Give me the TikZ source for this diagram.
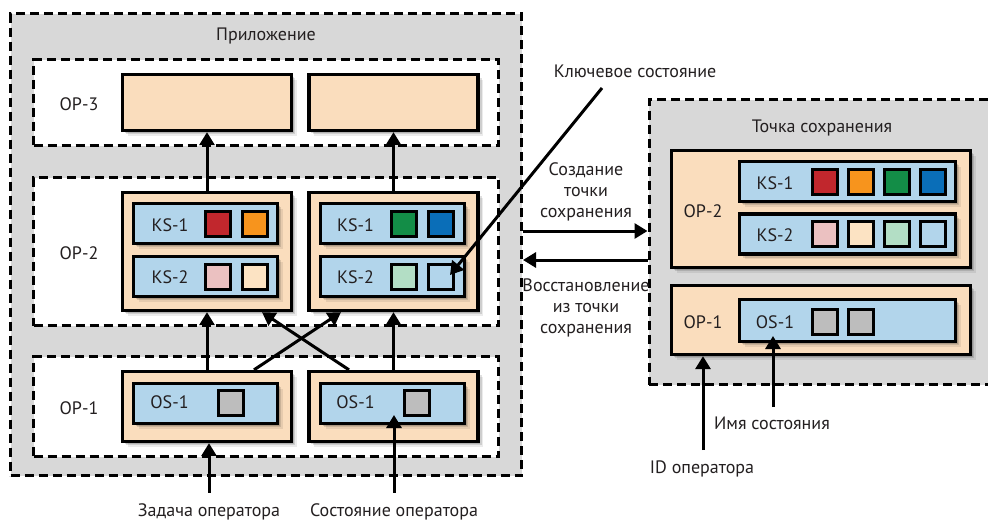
\documentclass[tikz,border=0pt]{standalone}
\usepackage{fontspec}
\setmainfont{PT Sans}
\usetikzlibrary{calc,shadows,arrows.meta}
\definecolor{bgray}{HTML}{D8D8D8}
\definecolor{peach}{HTML}{FADDBD}
\definecolor{lblue}{HTML}{B2D5EB}
\definecolor{sqred}{HTML}{C1272D}
\definecolor{sqorange}{HTML}{F7941D}
\definecolor{sqgreen}{HTML}{138D47}
\definecolor{sqblue}{HTML}{0A6EB8}
\definecolor{sqpink}{HTML}{EBC1C1}
\definecolor{sqpeach}{HTML}{FCE3C3}
\definecolor{sqmint}{HTML}{B3DEC5}
\definecolor{sqgray}{HTML}{BDBDBD}
\definecolor{ink}{HTML}{231F20}
\tikzset{
 grp/.style={draw=black, line width=3pt, dash pattern=on 9pt off 5pt, fill=bgray, inner sep=0},
 lay/.style={draw=black, line width=3pt, dash pattern=on 9pt off 5pt, fill=white, inner sep=0},
 shd/.style={
   drop shadow={shadow xshift=2pt, shadow yshift=-2pt, opacity=0.14, fill=black},
   drop shadow={shadow xshift=3.5pt, shadow yshift=-3.5pt, opacity=0.12, fill=black},
   drop shadow={shadow xshift=5pt, shadow yshift=-5pt, opacity=0.08, fill=black}},
 opbox/.style={draw=black, line width=3.3pt, fill=peach, inner sep=0, shd},
 stbox/.style={draw=black, line width=3.3pt, fill=lblue, inner sep=0, shd},
 sq/.style={draw=black, line width=3pt, minimum size=25pt, inner sep=0},
 arr/.style={draw=black, line width=3pt, -{Triangle[width=15pt,length=13pt]}},
 lbl/.style={inner sep=0, anchor=base, text=ink},
 mlbl/.style={inner sep=0, text=ink, align=center},
}
\begin{document}
\begin{tikzpicture}[x=1pt,y=-1pt,font=\fontsize{18}{21}\selectfont]
\useasboundingbox (0,0) rectangle (988,520);
% ---------------- Application ----------------
\node[grp, minimum width=511, minimum height=462] (app) at (266,244.5) {};
\node[lbl] (apptitle) at (266,40.5) {Приложение};
\node[lay, minimum width=465, minimum height=86] (lay3) at (266,102.5) {};
\node[lay, minimum width=465, minimum height=148] (lay2) at (266,251.5) {};
\node[lay, minimum width=465, minimum height=100] (lay1) at (266,406.5) {};
\node[lbl] (lop3) at (79,110) {OP-3};
\node[lbl] (lop2) at (79,259) {OP-2};
\node[lbl] (lop1) at (79,414) {OP-1};
% OP-3
\node[opbox, minimum width=169, minimum height=56] (op3l) at (207,102.5) {};
\node[opbox, minimum width=169, minimum height=56] (op3r) at (393.5,102.5) {};
% OP-2
\node[opbox, minimum width=169, minimum height=118] (op2l) at (207,251.5) {};
\node[opbox, minimum width=169, minimum height=118] (op2r) at (393.5,251.5) {};
\node[stbox, minimum width=144, minimum height=40] (ks1l) at (205.5,223.5) {};
\node[stbox, minimum width=144, minimum height=40] (ks2l) at (205.5,276.5) {};
\node[stbox, minimum width=144, minimum height=40] (ks1r) at (392.5,223.5) {};
\node[stbox, minimum width=144, minimum height=40] (ks2r) at (392.5,276.5) {};
\node[lbl] (tks1l) at (170,231.5) {KS-1};
\node[lbl] (tks2l) at (170,283.5) {KS-2};
\node[lbl] (tks1r) at (355.5,231.5) {KS-1};
\node[lbl] (tks2r) at (355.5,283.5) {KS-2};
\node[sq, fill=sqred]    (s1a) at (218,223.5) {};
\node[sq, fill=sqorange] (s1b) at (254.5,223.5) {};
\node[sq, fill=sqpink]   (s2a) at (218,276.5) {};
\node[sq, fill=sqpeach]  (s2b) at (254.5,276.5) {};
\node[sq, fill=sqgreen]  (s3a) at (404,223.5) {};
\node[sq, fill=sqblue]   (s3b) at (441,223.5) {};
\node[sq, fill=sqmint]   (s4a) at (404,276.5) {};
\node[sq, fill=lblue]    (s4b) at (441,276.5) {};
% OP-1
\node[opbox, minimum width=169, minimum height=70] (op1l) at (207,406.5) {};
\node[opbox, minimum width=169, minimum height=70] (op1r) at (393.5,406.5) {};
\node[stbox, minimum width=144, minimum height=40] (os1l) at (205.5,403.5) {};
\node[stbox, minimum width=144, minimum height=40] (os1r) at (392.5,403.5) {};
\node[lbl] (tos1l) at (169.5,408.5) {OS-1};
\node[lbl] (tos1r) at (355.5,408.5) {OS-1};
\node[sq, fill=sqgray] (g1) at (231,402.5) {};
\node[sq, fill=sqgray] (g2) at (417,402.5) {};
% arrows inside application
\draw[arr] (op2l.north) -- (op3l.south);
\draw[arr] (op2r.north) -- (op3r.south);
\draw[arr] (op1l.north) -- (op2l.south);
\draw[arr] (op1r.north) -- (op2r.south);
\draw[arr] ($(op1l.north)+(47,0)$) -- ($(op2r.south)+(-52.5,0)$);
\draw[arr] ($(op1r.north)+(-44.5,0)$) -- ($(op2l.south)+(55,0)$);
% bottom labels
\node[lbl] (task) at (209,516) {Задача оператора};
\node[lbl] (opstate) at (394,516) {Состояние оператора};
\coordinate (tipS) at (394,415);
\draw[arr] ($(task.north)+(0,-10)$) -- (task.north |- op1l.south);
\draw[arr] ($(opstate.north)+(0,-10)$) -- (tipS);
% ---------------- Savepoint ----------------
\node[grp, minimum width=356, minimum height=285] (sp) at (827,242) {};
\node[lbl] (sptitle) at (822,132) {Точка сохранения};
\node[opbox, minimum width=299, minimum height=117] (spop2) at (821,209) {};
\node[stbox, minimum width=216, minimum height=40] (spks1) at (847.5,181.5) {};
\node[stbox, minimum width=216, minimum height=40] (spks2) at (847.5,234) {};
\node[lbl] (tspop2) at (703,217) {OP-2};
\node[lbl] (tspks1) at (775,189) {KS-1};
\node[lbl] (tspks2) at (775,241) {KS-2};
\node[sq, fill=sqred]    (p1) at (824.5,181.5) {};
\node[sq, fill=sqorange] (p2) at (860.5,181.5) {};
\node[sq, fill=sqgreen]  (p3) at (897,181.5) {};
\node[sq, fill=sqblue]   (p4) at (933,181.5) {};
\node[sq, fill=sqpink]   (q1) at (824.5,234) {};
\node[sq, fill=sqpeach]  (q2) at (860.5,234) {};
\node[sq, fill=sqmint]   (q3) at (897,234) {};
\node[sq, fill=lblue]    (q4) at (933,234) {};
\node[opbox, minimum width=299, minimum height=69] (spop1) at (821,320) {};
\node[stbox, minimum width=216, minimum height=42] (spos1) at (847.5,320.5) {};
\node[lbl] (tspop1) at (703,328) {OP-1};
\node[lbl] (tspos1) at (775,328) {OS-1};
\node[sq, fill=sqgray] (r1) at (824.5,321.5) {};
\node[sq, fill=sqgray] (r2) at (860.5,321.5) {};
\node[lbl] (idop) at (702,473) {ID оператора};
\node[lbl] (stname) at (772,429) {Имя состояния};
\coordinate (tipN) at (773,336);
\draw[arr] ($(idop.north)+(1,-10)$) -- ($(idop.north |- spop1.south)+(1,0)$);
\draw[arr] ($(stname.north)+(1,-9)$) -- (tipN);
% ---------------- between ----------------
\coordinate (ycr) at (0,231);
\coordinate (yrs) at (0,260);
\draw[arr] (app.east |- ycr) -- (sp.west |- ycr);
\draw[arr] (sp.west |- yrs) -- (app.east |- yrs);
\node[mlbl] (create) at (586,191.5) {Создание\\точки\\сохранения};
\node[mlbl] (restore) at (586,307.5) {Восстановление\\из точки\\сохранения};
% key state
\node[lbl] (keyst) at (635,77) {Ключевое состояние};
\coordinate (kstart) at (602,88);
\draw[arr] (kstart) -- ($(s4b.center)+(9,-1.5)$);
\end{tikzpicture}
\end{document}
